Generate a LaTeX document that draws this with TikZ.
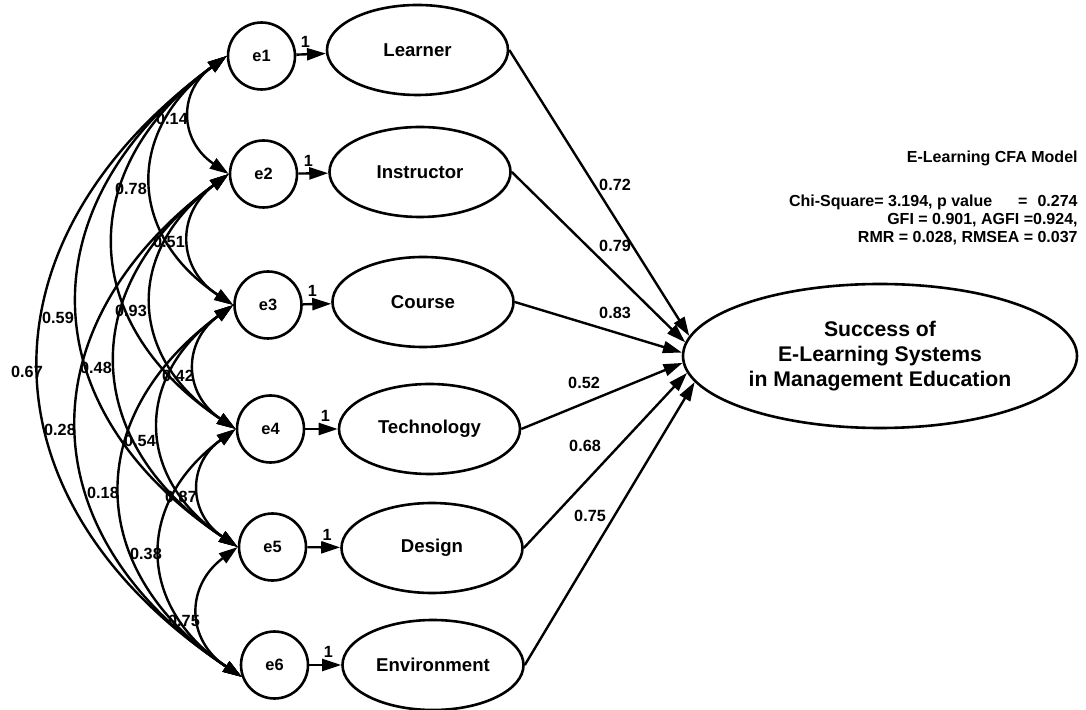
\documentclass[tikz,border=0pt]{standalone}
\usepackage{fontspec}
\setmainfont{Liberation Sans}
\usetikzlibrary{shapes.geometric,arrows.meta}

\tikzset{
  err/.style={circle,draw,line width=1.3pt,minimum size=33.5pt,inner sep=0pt,
    font=\bfseries\fontsize{8.2}{9}\selectfont},
  ind/.style={ellipse,draw,line width=1.3pt,minimum width=90.5pt,minimum height=45pt,
    inner sep=0pt,font=\bfseries\fontsize{9.3}{11}\selectfont},
  lbl/.style={font=\bfseries\fontsize{8.1}{9}\selectfont,inner sep=0pt},
  note/.style={font=\bfseries\fontsize{8}{9}\selectfont,inner sep=0pt},
  reg/.style={line width=1.2pt,-{Triangle[length=9.5pt,width=6pt]}},
  cov/.style={line width=1.2pt,{Triangle[length=9.5pt,width=6pt]}-{Triangle[length=9.5pt,width=6pt]},
    bend right=55,looseness=1.3}
}

\begin{document}
\begin{tikzpicture}[x=0.5pt,y=-0.5pt]

        % (x, y) in pixels of the original, y going down
        \useasboundingbox (0, 0) rectangle (1086, 710);

        % error terms
        \node[err] (e1) at (261.5, 56) {e1};
        \node[err] (e2) at (263.5, 174) {e2};
        \node[err] (e3) at (268, 305) {e3};
        \node[err] (e4) at (270.5, 429) {e4};
        \node[err] (e5) at (272.5, 547) {e5};
        \node[err] (e6) at (274.5, 665) {e6};

        % factors
        \node[ind] (learner) at (417.5, 50) {Learner};
        \node[ind] (instructor) at (420, 172) {Instructor};
        \node[ind] (course) at (423, 302) {Course};
        \node[ind] (technology) at (429.5, 429) {Technology};
        \node[ind] (design) at (432, 548) {Design};
        \node[ind] (environment) at (433, 665) {Environment};

        \node[ellipse,draw,line width=1.3pt,minimum width=197pt,minimum height=72pt,inner sep=0pt,
          align=center,font=\bfseries\fontsize{10.6}{12.5}\selectfont] (succ) at (880, 356)
          {Success of\\E-Learning Systems\\in Management Education};

        % e -> factor, fixed to 1
        \draw[reg] (e1) -- node[lbl,pos=0.31,above=3pt] {1} (learner);
        \draw[reg] (e2) -- node[lbl,pos=0.34,above=3pt] {1} (instructor);
        \draw[reg] (e3) -- node[lbl,pos=0.34,above=3pt] {1} (course);
        \draw[reg] (e4) -- node[lbl,pos=0.62,above=3pt] {1} (technology);
        \draw[reg] (e5) -- node[lbl,pos=0.6,above=3pt] {1} (design);
        \draw[reg] (e6) -- node[lbl,pos=0.6,above=3pt] {1} (environment);

        % factor -> success
        \draw[reg] (learner.east) -- (succ.174);
        \draw[reg] (instructor.east) -- (succ.176);
        \draw[reg] (course.east) -- (succ.179);
        \draw[reg] (technology.east) -- (succ.182);
        \draw[reg] (design.east) -- (succ.185);
        \draw[reg] (environment.east) -- (succ.188);

        \node[lbl] (w1) at (615, 185) {0.72};
        \node[lbl] (w2) at (615, 246) {0.79};
        \node[lbl] (w3) at (615, 313) {0.83};
        \node[lbl] (w4) at (584, 383) {0.52};
        \node[lbl] (w5) at (585, 446) {0.68};
        \node[lbl] (w6) at (590, 516) {0.75};

        % covariances between the errors
        \draw[cov] (e1.west) to (e2.west);
        \draw[cov] (e1.west) to (e3.west);
        \draw[cov] (e1.west) to (e4.west);
        \draw[cov] (e1.west) to (e5.west);
        \draw[cov] (e1.west) to (e6.200);
        \draw[cov] (e2.west) to (e3.west);
        \draw[cov] (e2.west) to (e4.west);
        \draw[cov] (e2.west) to (e5.west);
        \draw[cov] (e2.west) to (e6.200);
        \draw[cov] (e3.west) to (e4.west);
        \draw[cov] (e3.west) to (e5.west);
        \draw[cov] (e3.west) to (e6.200);
        \draw[cov] (e4.west) to (e5.west);
        \draw[cov] (e4.west) to (e6.200);
        \draw[cov] (e5.west) to (e6.200);

        \node[lbl] (r1) at (172, 119) {0.14};
        \node[lbl] (r2) at (131, 189) {0.78};
        \node[lbl] (r3) at (169, 242) {0.51};
        \node[lbl] (r4) at (131, 311) {0.93};
        \node[lbl] (r5) at (58, 318) {0.59};
        \node[lbl] (r6) at (27, 372) {0.67};
        \node[lbl] (r7) at (96, 368) {0.48};
        \node[lbl] (r8) at (178, 376) {0.42};
        \node[lbl] (r9) at (60, 430) {0.28};
        \node[lbl] (r10) at (140, 441) {0.54};
        \node[lbl] (r11) at (103, 493) {0.18};
        \node[lbl] (r12) at (181, 497) {0.87};
        \node[lbl] (r13) at (146, 554) {0.38};
        \node[lbl] (r14) at (184, 621) {0.75};

        % model fit
        \node[note,anchor=east] (title) at (1078, 158) {E-Learning CFA Model};
        \node[note,anchor=north east,align=right] (fit) at (1078, 195)
          {Chi-Square= 3.194, p value\hspace{13pt}=\hspace{5pt}0.274\\
           GFI = 0.901, AGFI =0.924,\\
           RMR = 0.028, RMSEA = 0.037};

    \end{tikzpicture}
\end{document}
